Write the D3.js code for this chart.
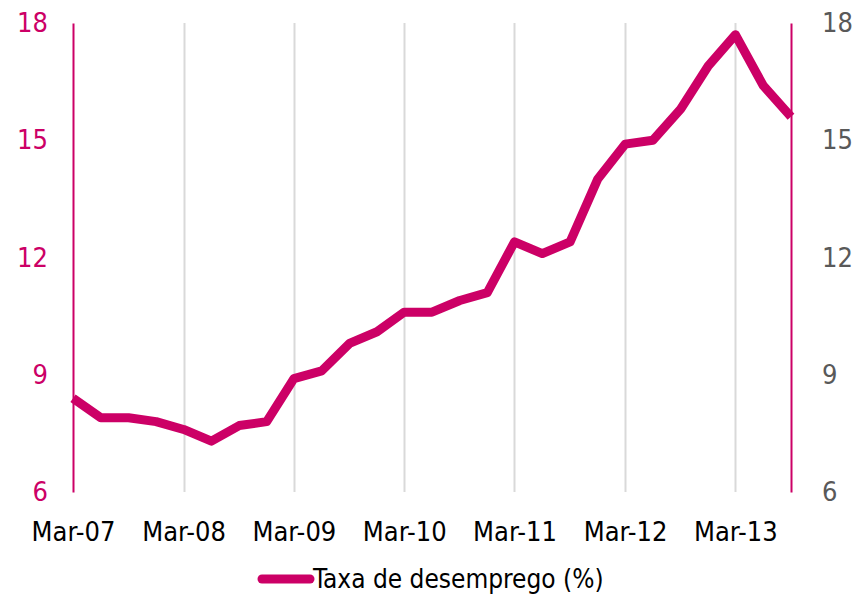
<!DOCTYPE html>
<html>
<head>
<meta charset="utf-8">
<script src="https://cdn.jsdelivr.net/npm/d3@7"></script>
<style>
  body { margin: 0; background: #fff; }
  text { font-family: "DejaVu Sans Condensed", "DejaVu Sans", sans-serif; font-stretch: condensed; }
</style>
</head>
<body>
<div id="chart"></div>
<script>
// quarterly unemployment rate, Mar-07 .. Sep-13
var quarters = ["2007-03", "2007-06", "2007-09", "2007-12",
    "2008-03", "2008-06", "2008-09", "2008-12",
    "2009-03", "2009-06", "2009-09", "2009-12",
    "2010-03", "2010-06", "2010-09", "2010-12",
    "2011-03", "2011-06", "2011-09", "2011-12",
    "2012-03", "2012-06", "2012-09", "2012-12",
    "2013-03", "2013-06", "2013-09"];
var rate = [8.4, 7.9, 7.9, 7.8, 7.6, 7.3, 7.7, 7.8,
    8.9, 9.1, 9.8, 10.1, 10.6, 10.6, 10.9, 11.1,
    12.4, 12.1, 12.4, 14.0, 14.9, 15.0, 15.8, 16.9,
    17.7, 16.4, 15.6];
var yTicks = [6, 9, 12, 15, 18];
var xTicks = ["2007-03", "2008-03", "2009-03", "2010-03", "2011-03", "2012-03", "2013-03"];
var seriesName = "Taxa de desemprego (%)";

var width = 866,
    height = 600;
var pink = "#cc0066";

var parse = d3.timeParse("%Y-%m");
var data = quarters.map(function(q, i) {
    return { date: parse(q), value: rate[i] };
});

var svg = d3.select("#chart").append("svg")
    .attr("width", width)
    .attr("height", height);

var x = d3.scaleTime()
    .domain([parse(quarters[0]), parse(quarters[quarters.length - 1])])
    .range([73, 791]);

var y = d3.scaleLinear()
    .domain([6, 18])
    .range([492, 23]);

// vertical gridlines
svg.append("g")
    .selectAll("line")
    .data(xTicks.slice(1).map(parse))
    .enter().append("line")
    .attr("x1", function(d) { return Math.round(x(d)) + 0.5; })
    .attr("x2", function(d) { return Math.round(x(d)) + 0.5; })
    .attr("y1", y(18))
    .attr("y2", y(6))
    .attr("stroke", "#d9d9d9")
    .attr("stroke-width", 2);

// left axis
var left = svg.append("g")
    .attr("transform", "translate(73,0)")
    .call(d3.axisLeft(y).tickValues(yTicks).tickSize(0).tickPadding(25));
left.select(".domain").attr("stroke", pink).attr("stroke-width", 2);
left.selectAll("text")
    .attr("fill", pink)
    .style("font-size", "27px");

// right axis
var right = svg.append("g")
    .attr("transform", "translate(" + x.range()[1] + ",0)")
    .call(d3.axisRight(y).tickValues(yTicks).tickSize(0).tickPadding(31));
right.select(".domain").attr("stroke", pink).attr("stroke-width", 2);
right.selectAll("text")
    .attr("fill", "#595959")
    .style("font-size", "27px");

// bottom axis labels
var bottom = svg.append("g")
    .attr("transform", "translate(0," + y(6) + ")")
    .call(d3.axisBottom(x)
        .tickValues(xTicks.map(parse))
        .tickFormat(d3.timeFormat("%b-%y"))
        .tickSize(0)
        .tickPadding(30));
bottom.select(".domain").remove();
bottom.selectAll("text")
    .attr("fill", "#000")
    .style("font-size", "27px");

// series line
var line = d3.line()
    .x(function(d) { return x(d.date); })
    .y(function(d) { return y(d.value); });

svg.append("path")
    .datum(data)
    .attr("fill", "none")
    .attr("stroke", pink)
    .attr("stroke-width", 9)
    .attr("stroke-linejoin", "round")
    .attr("d", line);

// legend
var legend = svg.append("g").attr("transform", "translate(258,579)");
legend.append("line")
    .attr("x1", 4)
    .attr("x2", 52)
    .attr("stroke", pink)
    .attr("stroke-width", 9)
    .attr("stroke-linecap", "round");
legend.append("text")
    .attr("x", 55)
    .attr("dy", "0.35em")
    .attr("fill", "#000")
    .style("font-size", "26px")
    .text(seriesName);
</script>
</body>
</html>
